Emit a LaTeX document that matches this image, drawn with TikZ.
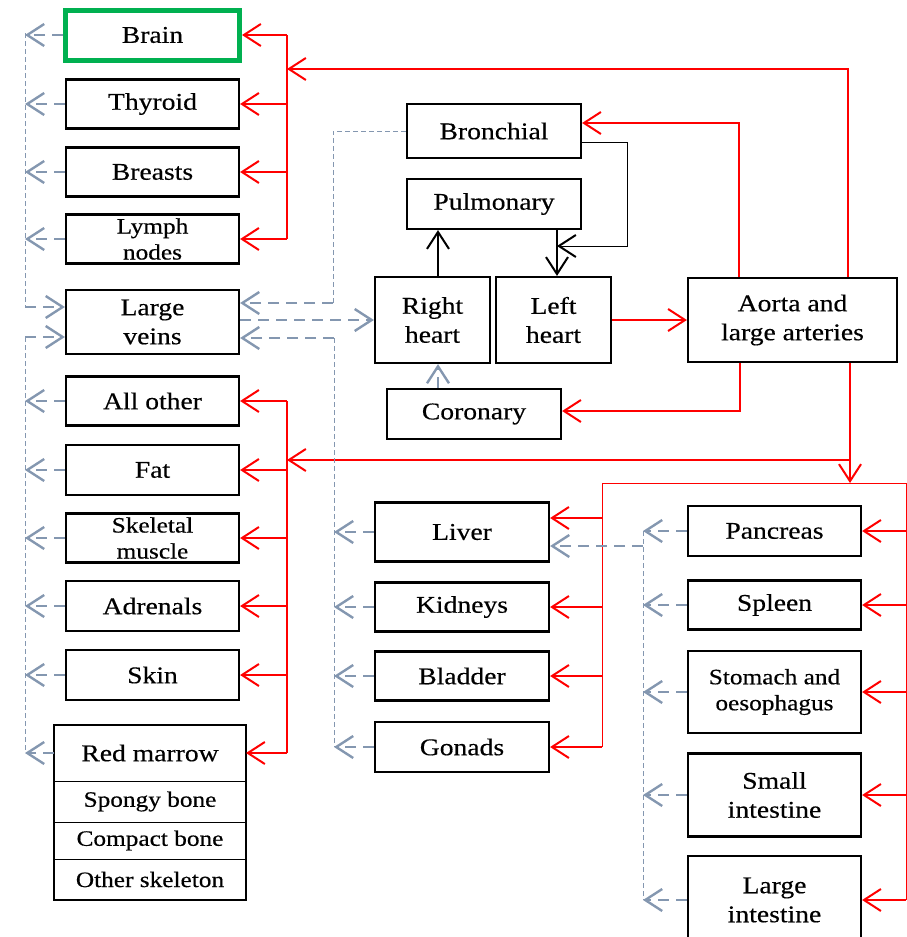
\documentclass[tikz,border=0pt]{standalone}
\usepackage{fontspec}
\setmainfont{Liberation Serif}[FakeStretch=1.15, FakeBold=0.4]
\usetikzlibrary{arrows.meta}

\definecolor{veingray}{RGB}{132,151,176}
\definecolor{brainframe}{RGB}{0,176,80}

\tikzset{
  organ/.style={draw, line width=2.2pt, minimum width=173pt, minimum height=49pt,
    inner sep=0pt, align=center, font=\fontsize{24}{29}\selectfont},
  smalltext/.style={font=\fontsize{22}{26}\selectfont},
  cell/.style={draw, line width=1pt, minimum width=192pt, inner sep=0pt, outer sep=0pt,
    font=\fontsize{22}{26}\selectfont},
  art/.style={->, red, line width=2pt},
  artbus/.style={red, line width=1.2pt},
  ven/.style={->, veingray, line width=2.4pt, dash pattern=on 11pt off 7pt},
  venbus/.style={veingray, line width=1pt, dash pattern=on 5pt off 3pt},
  flow/.style={->, line width=2pt},
}

\begin{document}
\begin{tikzpicture}[x=1pt, y=-1pt, >={Straight Barb[length=17pt,width=22pt]}]
  \useasboundingbox (0,0) rectangle (907,937);

  % left column
  \node[organ, draw=brainframe, line width=5pt, minimum width=174pt, minimum height=50pt]
    (brain) at (152.5,35) {Brain};
  \node[organ] (thyroid) at (152.5,104) {Thyroid};
  \node[organ] (breasts) at (152.5,172) {Breasts};
  \node[organ, smalltext] (lymph) at (152.5,239) {Lymph\\nodes};
  \node[organ, minimum height=64pt] (largeveins) at (152.5,322) {Large\\veins};
  \node[organ] (allother) at (152.5,401) {All other};
  \node[organ, minimum height=50pt] (fat) at (152.5,470) {Fat};
  \node[organ, smalltext] (skeletal) at (152.5,538) {Skeletal\\muscle};
  \node[organ, minimum height=50pt] (adrenals) at (152.5,606) {Adrenals};
  \node[organ, minimum height=50pt] (skin) at (152.5,675) {Skin};

  \node[cell, minimum height=56pt, font=\fontsize{24}{29}\selectfont] (redmarrow) at (150,753)
    {\raisebox{-6pt}{Red marrow}};
  \node[cell, minimum height=41pt] (spongy) at (150,801.5) {Spongy bone};
  \node[cell, minimum height=37pt] (compact) at (150,840.5) {Compact bone};
  \node[cell, minimum height=41pt] (otherskel) at (150,879.5) {Other skeleton};
  \draw[line width=2.2pt] (redmarrow.north west) rectangle (otherskel.south east);

  % heart and lungs
  \node[organ, minimum width=174pt, minimum height=54pt] (bronchial) at (494,131) {Bronchial};
  \node[organ, minimum width=174pt, minimum height=50pt] (pulmonary) at (494,204) {Pulmonary};
  \node[organ, minimum width=115pt, minimum height=86pt] (rightheart) at (432.5,320) {Right\\heart};
  \node[organ, minimum width=115pt, minimum height=86pt] (leftheart) at (553.5,320) {Left\\heart};
  \node[organ, minimum width=174pt, minimum height=50pt] (coronary) at (474,414) {Coronary};
  \node[organ, minimum width=209pt, minimum height=84pt] (aorta) at (792.5,320) {Aorta and\\large arteries};

  % middle column
  \node[organ, minimum width=174pt, minimum height=59pt] (liver) at (462,532) {Liver};
  \node[organ, minimum width=174pt] (kidneys) at (462,607) {Kidneys};
  \node[organ, minimum width=174pt] (bladder) at (462,676) {Bladder};
  \node[organ, minimum width=174pt, minimum height=50pt] (gonads) at (462,747) {Gonads};

  % right column
  \node[organ, minimum height=50pt] (pancreas) at (774.5,531) {Pancreas};
  \node[organ] (spleen) at (774.5,605) {Spleen};
  \node[organ, smalltext, minimum height=82pt] (stomach) at (774.5,692) {Stomach and\\oesophagus};
  \node[organ, minimum height=83pt] (smallint) at (774.5,795) {Small\\intestine};
  \node[organ, minimum height=88pt] (largeint) at (774.5,900) {Large\\intestine};

  % heart circuit
  \draw[flow] ([xshift=5.5pt]rightheart.north) -- ([xshift=5.5pt]rightheart.north |- pulmonary.south);
  \draw[flow] ([xshift=63pt]pulmonary.south) -- ([xshift=63pt]pulmonary.south |- leftheart.north);
  \coordinate (bronchret) at (557,246);
  \draw[->, line width=1pt, >={Straight Barb[length=17pt,width=22pt,line width=2pt]}]
    ([yshift=-11pt]bronchial.east) -| (627,246) -- (bronchret);
  \draw[ven] ([xshift=-36pt]coronary.north) -- ([xshift=-36pt]coronary.north |- rightheart.south);

  % arteries
  \draw[art] (leftheart.east) -- (aorta.west);
  \draw[art] ([xshift=-53.5pt]aorta.north) |- ([yshift=8pt]bronchial.east);
  \coordinate (headin) at (287,69);
  \draw[art] ([xshift=55.5pt]aorta.north) |- (headin);
  \draw[art] ([xshift=-52.5pt]aorta.south) |- ([yshift=3pt]coronary.east);
  \coordinate (abdin) at (850,483);
  \draw[art] ([xshift=57.5pt]aorta.south) -- (abdin);
  \coordinate (bodyin) at (287,460);
  \draw[art] (abdin |- bodyin) -- (bodyin);

  \coordinate (headbus1) at (287,35);
  \coordinate (headbus2) at (287,239);
  \draw[artbus] (headbus1) -- (headbus2);
  \draw[art] (brain.east -| headbus1) -- (brain.east);
  \draw[art] (thyroid.east -| headbus1) -- (thyroid.east);
  \draw[art] (breasts.east -| headbus1) -- (breasts.east);
  \draw[art] (lymph.east -| headbus1) -- (lymph.east);

  \coordinate (bodybus1) at (287,401);
  \coordinate (bodybus2) at (287,753);
  \draw[artbus] (bodybus1) -- (bodybus2);
  \draw[art] (allother.east -| bodybus1) -- (allother.east);
  \draw[art] (fat.east -| bodybus1) -- (fat.east);
  \draw[art] (skeletal.east -| bodybus1) -- (skeletal.east);
  \draw[art] (adrenals.east -| bodybus1) -- (adrenals.east);
  \draw[art] (skin.east -| bodybus1) -- (skin.east);
  \draw[art] (redmarrow.east -| bodybus1) -- (redmarrow.east);

  \coordinate (abdbus1) at (602,483);
  \coordinate (abdbus2) at (602,747);
  \coordinate (abdbus3) at (906,483);
  \coordinate (abdbus4) at (906,900);
  \draw[red, line width=1pt] (abdbus2) -- (abdbus1) -- (abdbus3) -- (abdbus4);
  \draw[art] ([yshift=14pt]liver.east -| abdbus1) -- ([yshift=14pt]liver.east);
  \draw[art] (kidneys.east -| abdbus1) -- (kidneys.east);
  \draw[art] (bladder.east -| abdbus1) -- (bladder.east);
  \draw[art] (gonads.east -| abdbus1) -- (gonads.east);
  \draw[art] (pancreas.east -| abdbus3) -- (pancreas.east);
  \draw[art] (spleen.east -| abdbus3) -- (spleen.east);
  \draw[art] (stomach.east -| abdbus3) -- (stomach.east);
  \draw[art] (smallint.east -| abdbus3) -- (smallint.east);
  \draw[art] (largeint.east -| abdbus3) -- (largeint.east);

  % veins
  \coordinate (vbus1) at (25,33);
  \coordinate (vbus2) at (25,307);
  \coordinate (vbus3) at (25,337);
  \coordinate (vbus4) at (25,753);
  \draw[venbus] (vbus1) -- (vbus2);
  \draw[venbus] (vbus3) -- (vbus4);
  \draw[ven] (vbus2) -- (vbus2 -| largeveins.west);
  \draw[ven] (vbus3) -- (vbus3 -| largeveins.west);
  \draw[ven] (brain.west) -- (brain.west -| vbus1);
  \draw[ven] (thyroid.west) -- (thyroid.west -| vbus1);
  \draw[ven] (breasts.west) -- (breasts.west -| vbus1);
  \draw[ven] (lymph.west) -- (lymph.west -| vbus1);
  \draw[ven] (allother.west) -- (allother.west -| vbus1);
  \draw[ven] (fat.west) -- (fat.west -| vbus1);
  \draw[ven] (skeletal.west) -- (skeletal.west -| vbus1);
  \draw[ven] (adrenals.west) -- (adrenals.west -| vbus1);
  \draw[ven] (skin.west) -- (skin.west -| vbus1);
  \draw[ven] (redmarrow.west) -- (redmarrow.west -| vbus1);

  \coordinate (mvbus1) at (333,303);
  \coordinate (mvbus2) at (334,338);
  \coordinate (mvbus3) at (334,747);
  \draw[venbus] (bronchial.west) -| (mvbus1);
  \draw[ven] (mvbus1) -- (mvbus1 -| largeveins.east);
  \draw[ven] (largeveins.east |- rightheart.west) -- (rightheart.west);
  \draw[venbus] (mvbus2) -- (mvbus3);
  \draw[ven] (mvbus2) -- (mvbus2 -| largeveins.east);
  \draw[ven] (liver.west) -- (liver.west -| mvbus2);
  \draw[ven] (kidneys.west) -- (kidneys.west -| mvbus2);
  \draw[ven] (bladder.west) -- (bladder.west -| mvbus2);
  \draw[ven] (gonads.west) -- (gonads.west -| mvbus2);

  \coordinate (gibus1) at (643,531);
  \coordinate (gibus2) at (643,900);
  \coordinate (portal) at (643,546);
  \draw[venbus] (gibus1) -- (gibus2);
  \draw[ven] (portal) -- (portal -| liver.east);
  \draw[ven] (pancreas.west) -- (pancreas.west -| gibus1);
  \draw[ven] (spleen.west) -- (spleen.west -| gibus1);
  \draw[ven] (stomach.west) -- (stomach.west -| gibus1);
  \draw[ven] (smallint.west) -- (smallint.west -| gibus1);
  \draw[ven] (largeint.west) -- (largeint.west -| gibus1);

\end{tikzpicture}
\end{document}
